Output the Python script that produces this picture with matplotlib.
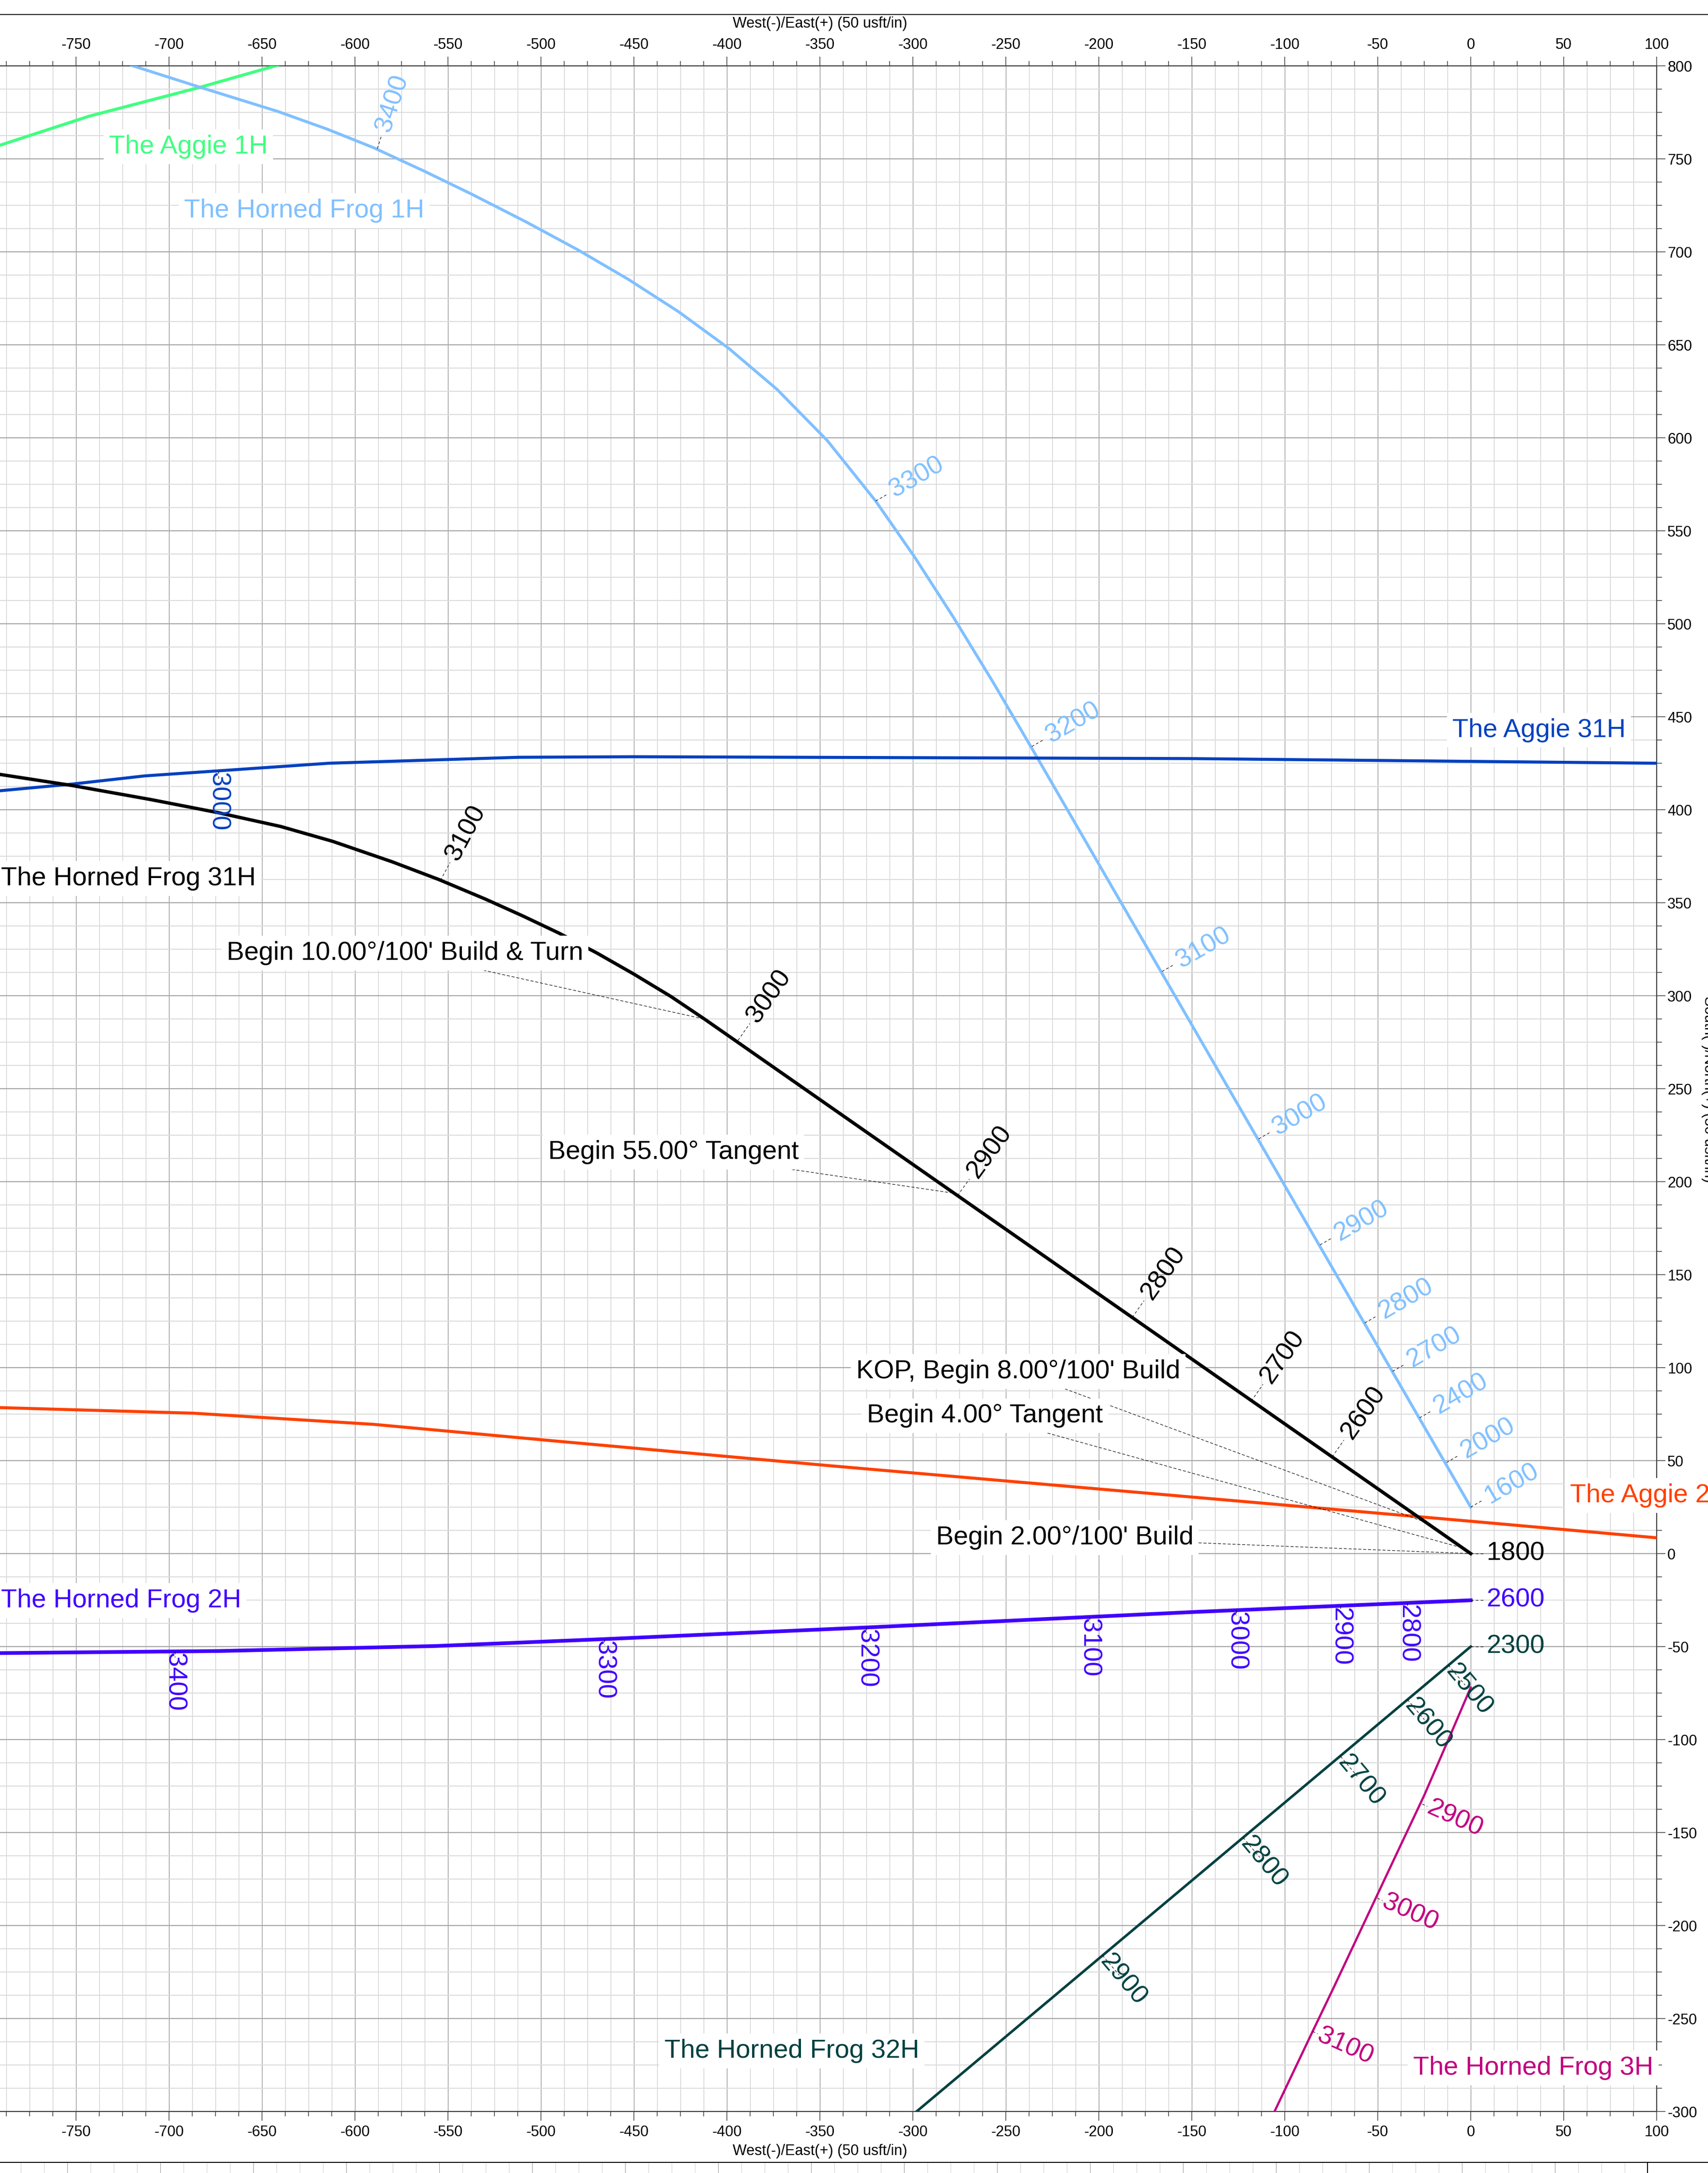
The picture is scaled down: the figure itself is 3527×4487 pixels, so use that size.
import numpy as np
import matplotlib
matplotlib.use("Agg")
import matplotlib.pyplot as plt
from matplotlib.ticker import MultipleLocator
from matplotlib.lines import Line2D

plt.rcParams['font.family'] = ['Liberation Sans', 'DejaVu Sans']
plt.rcParams['axes.unicode_minus'] = False

W, H, DPI = 3527, 4487, 100

# plan view of the well paths, West(-)/East(+) vs South(-)/North(+), usft
hf31h_x = [0, -412, -430, -450, -470, -490, -510, -530, -555, -580, -612, -640, -674, -710, -752, -791]
hf31h_y = [0, 287.4, 299.5, 311.6, 323, 333.5, 343, 352, 362.5, 372, 383, 391, 398.5, 405.5, 413, 419]

hf1h_x = [0, -236, -257, -278, -299, -320, -346, -373, -399, -426, -453, -480, -508, -537,
          -563, -590, -615, -641.5, -683.3, -720]
hf1h_y = [25, 433, 468.8, 503.2, 535.8, 566, 598.5, 626, 648.1, 667.8, 685.2, 701, 716.1, 730.9,
          743.5, 756, 766, 775.5, 788.5, 800.2]

ag31h_x = [100, 0, -150, -300, -450, -512, -614, -713, -752, -791]
ag31h_y = [425, 426, 427.5, 428, 428.5, 428.2, 425, 418.2, 413.8, 410.2]

ag1h_x = [-641.8, -683.3, -743.1, -791]
ag1h_y = [800.3, 788.5, 772.9, 757.3]

ag2h_x = [100, 0, -114, -344, -493, -590, -687, -791]
ag2h_y = [8.5, 17.4, 27.3, 47.2, 60.6, 69.5, 75.5, 78.5]

hf2h_x = [0, -146.6, -322.3, -468.7, -556.6, -673.7, -791]
hf2h_y = [-25.1, -31.3, -39.6, -46.1, -49.7, -52.4, -53.5]

hf32h_x = [0, -298]
hf32h_y = [-50, -300]

hf3h_x = [0, -12, -25, -38, -50, -62, -74, -86, -105.5]
hf3h_y = [-72, -100, -130, -157.5, -183, -208.5, -234, -259, -300]

# measured depth markers along each path
hf31h_md = ['2600', '2700', '2800', '2900', '3000', '3100']
hf31h_mx = [-74.5, -118, -182, -276, -394, -554]
hf31h_my = [52, 82, 127, 192.5, 276, 362]
hf31h_ang = [55, 55, 55, 54, 55, 62]

hf1h_md = ['1600', '2000', '2400', '2700', '2800', '2900', '3000', '3100', '3200', '3300', '3400']
hf1h_mx = [0, -13, -27.5, -42, -57, -81, -114, -166, -236, -320, -588]
hf1h_my = [25, 49, 73, 98, 124, 166, 223, 313, 434, 566, 755.5]
hf1h_ang = [30, 30, 30, 30, 30, 30, 30, 30, 30, 30, 72]

hf2h_md = ['2800', '2900', '3000', '3100', '3200', '3300', '3400']
hf2h_mx = [-34, -70, -126, -205, -325, -466, -697]
hf2h_my = [-26.5, -28.1, -30.4, -34.1, -39.7, -46.0, -52.6]

ag31h_md = ['3000']
ag31h_mx = [-673.5]
ag31h_my = [420.9]

hf32h_md = ['2500', '2600', '2700', '2800', '2900']
hf32h_mx = [-12, -34, -70, -122.4, -198]
hf32h_my = [-60, -78.5, -109, -152.7, -216]

hf3h_md = ['2900', '3000', '3100']
hf3h_mx = [-26.1, -50.2, -85]
hf3h_my = [-134.7, -185.3, -257]

# depth at the end of the plotted paths
end_md = ['1800', '2600', '2300']
end_x = [0, 0, 0]
end_y = [0, -25, -50]

# well names
names = ['The Aggie 1H', 'The Horned Frog 1H', 'The Aggie 31H', 'The Horned Frog 31H',
         'The Aggie 2H', 'The Horned Frog 2H', 'The Horned Frog 32H', 'The Horned Frog 3H']
names_x = [-689.6, -627.4, 36.7, -721.9, 96, -725.8, -365.2, 33.6]
names_y = [756.5, 722.2, 442.8, 363.1, 31.3, -25.3, -267.4, -276.6]

# plan annotations on The Horned Frog 31H
notes = ["Begin 10.00°/100' Build & Turn", "Begin 55.00° Tangent",
         "KOP, Begin 8.00°/100' Build", "Begin 4.00° Tangent", "Begin 2.00°/100' Build"]
notes_x = [-573.2, -428.8, -243.4, -261.2, -218.3]
notes_y = [323, 215.9, 97.9, 74.1, 8.6]
notes_tx = [-412, -277.9, -24, -4.3, 0]
notes_ty = [287.4, 193.8, 16.7, 3, 0]

C_BLACK = '#000000'
C_LBLUE = '#80c0ff'
C_BLUE = '#0040c0'
C_GREEN = '#40ff80'
C_ORANGE = '#ff4000'
C_PURPLE = '#4000ff'
C_TEAL = '#004040'
C_MAG = '#c0007f'
name_colors = [C_GREEN, C_LBLUE, C_BLUE, C_BLACK, C_ORANGE, C_PURPLE, C_TEAL, C_MAG]

FS = 39
LEAD = dict(color='black', lw=0.8, ls=(0, (5, 4)), zorder=4)


def depth_labels(ax, mx, my, texts, angles, dist, lead, color):
    for x, y, t, a in zip(mx, my, texts, angles):
        r = np.radians(a)
        ax.plot([x, x + lead * np.cos(r)], [y, y + lead * np.sin(r)], **LEAD)
        ax.text(x + dist * np.cos(r), y + dist * np.sin(r), t, color=color,
                fontsize=FS, rotation=a, rotation_mode='anchor',
                ha='center', va='center', zorder=5)


fig = plt.figure(figsize=(W / DPI, H / DPI), dpi=DPI)
ax = fig.add_axes([0, 1 - 4360 / H, 3421 / W, 4224 / H])
ax.set_xlim(-790.9, 100)
ax.set_ylim(-300, 800)

ax.xaxis.set_major_locator(MultipleLocator(50))
ax.xaxis.set_minor_locator(MultipleLocator(12.5))
ax.yaxis.set_major_locator(MultipleLocator(50))
ax.yaxis.set_minor_locator(MultipleLocator(12.5))

ax.xaxis.grid(True, which='major', color='#8c8c8c', lw=0.9)
ax.xaxis.grid(True, which='minor', color='#c8c8c8', lw=0.8)
ax.yaxis.grid(True, which='major', color='#a8a8a8', lw=1.6)
ax.yaxis.grid(True, which='minor', color='#dcdcdc', lw=1.5)
ax.set_axisbelow(True)

ax.spines['left'].set_visible(False)
for s in ['top', 'bottom', 'right']:
    ax.spines[s].set_color('#404040')
    ax.spines[s].set_linewidth(1.6)

ax.tick_params(axis='x', which='both', top=True, bottom=True, labeltop=True,
               labelbottom=True, direction='out', labelsize=22, color='#404040', width=1.1)
ax.tick_params(axis='x', which='major', length=13.7, pad=6.5)
ax.tick_params(axis='x', which='minor', length=7.2)
ax.tick_params(axis='y', which='both', left=False, right=True, labelleft=False,
               labelright=True, direction='out', labelsize=22, color='#404040', width=1.1)
ax.tick_params(axis='y', which='major', length=13, pad=3)
ax.tick_params(axis='y', which='minor', length=8)

# well paths
ax.plot(ag1h_x, ag1h_y, color=C_GREEN, lw=4.5, zorder=3)
ax.plot(hf1h_x, hf1h_y, color=C_LBLUE, lw=4.3, zorder=3)
ax.plot(ag31h_x, ag31h_y, color=C_BLUE, lw=4.5, zorder=3)
ax.plot(ag2h_x, ag2h_y, color=C_ORANGE, lw=4.5, zorder=3)
ax.plot(hf2h_x, hf2h_y, color=C_PURPLE, lw=5.5, zorder=3)
ax.plot(hf32h_x, hf32h_y, color=C_TEAL, lw=3.8, zorder=3)
ax.plot(hf3h_x, hf3h_y, color=C_MAG, lw=3.3, zorder=3)
ax.plot(hf31h_x, hf31h_y, color=C_BLACK, lw=5.0, zorder=3)

# depth markers
depth_labels(ax, hf31h_mx, hf31h_my, hf31h_md, hf31h_ang, 29, 11, C_BLACK)
depth_labels(ax, hf1h_mx, hf1h_my, hf1h_md, hf1h_ang, 25.6, 7, C_LBLUE)
depth_labels(ax, hf2h_mx, hf2h_my, hf2h_md, [-90] * len(hf2h_md), 16.5, 3, C_PURPLE)
depth_labels(ax, ag31h_mx, ag31h_my, ag31h_md, [-90], 16.5, 5, C_BLUE)
depth_labels(ax, hf32h_mx, hf32h_my, hf32h_md, [-50] * len(hf32h_md), 17, 14, C_TEAL)
depth_labels(ax, hf3h_mx, hf3h_my, hf3h_md, [-24] * len(hf3h_md), 19.3, 3, C_MAG)

for x, y, t, c in zip(end_x, end_y, end_md, [C_BLACK, C_PURPLE, C_TEAL]):
    ax.plot([x, x + 7], [y, y], **LEAD)
    ax.text(x + 8.5, y, t, color=c, fontsize=FS, ha='left', va='center', zorder=5)

box = dict(facecolor='white', edgecolor='none', pad=7.8)
for t, x, y, c in zip(names, names_x, names_y, name_colors):
    ax.text(x, y, t, color=c, fontsize=FS, ha='center', va='center',
            bbox=box, zorder=6, clip_on=False)

for t, x, y, tx, ty in zip(notes, notes_x, notes_y, notes_tx, notes_ty):
    ax.annotate(t, xy=(tx, ty), xytext=(x, y), fontsize=FS, color='black',
                ha='center', va='center', bbox=box, zorder=7,
                arrowprops=dict(arrowstyle='-', color='black', lw=0.8,
                                ls=(0, (5, 4)), shrinkA=0, shrinkB=0))

# axis titles
fig.text(1693 / W, 1 - 48.6 / H, 'West(-)/East(+) (50 usft/in)', fontsize=22,
         ha='center', va='center')
fig.text(1693 / W, 1 - 4442 / H, 'West(-)/East(+) (50 usft/in)', fontsize=22,
         ha='center', va='center')
fig.text(3513 / W, 1 - 2249 / H, 'South(-)/North(+) (50 usft/in)', fontsize=22,
         rotation=-90, ha='left', va='center')

# frame of the neighbouring sheet panels
fig.add_artist(Line2D([0, 1], [1 - 30 / H, 1 - 30 / H], color='black', lw=1.4))
fig.add_artist(Line2D([0, 1], [1 - 4465 / H, 1 - 4465 / H], color='black', lw=1.4))
for k, px in enumerate(np.arange(42.8, 3402, 48.0)):
    col = '#a0a0a0' if k % 4 == 2 else '#d4d4d4'
    fig.add_artist(Line2D([px / W, px / W], [0, 1 - 4466 / H], color=col, lw=0.8))
fig.add_artist(Line2D([3402 / W, 3402 / W], [0, 1 - 4465 / H], color='black', lw=1.4))

fig.savefig('out.png', dpi=DPI)
